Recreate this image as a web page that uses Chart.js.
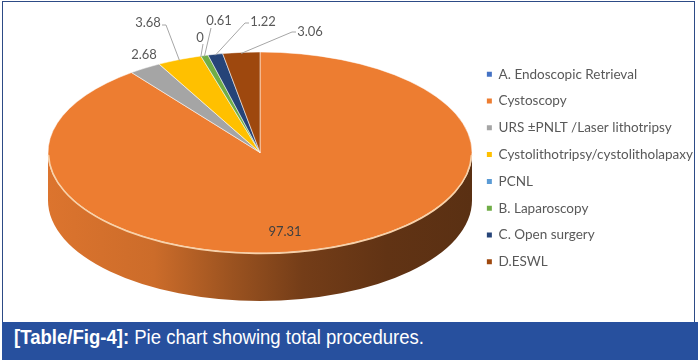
<!DOCTYPE html>
<html><head><meta charset="utf-8">
<script src="https://cdn.jsdelivr.net/npm/chart.js@4.4.0/dist/chart.umd.min.js"></script>
<style>
html,body{margin:0;padding:0;background:#fff;}
#wrap{position:relative;width:700px;height:360px;overflow:hidden;background:#fff;}
#cw{position:absolute;left:0;top:0;width:703px;height:322px;}
#frame{position:absolute;left:2px;top:1px;width:693px;height:321px;border:1.5px solid #2d4b86;border-bottom:none;box-sizing:border-box;}
#cap{position:absolute;left:2px;top:322px;width:696px;height:38px;background:#27509e;color:#fff;}
#capt{position:absolute;left:12px;top:5px;line-height:20px;font-family:"Liberation Sans Narrow","Liberation Sans",Arial,sans-serif;font-size:20px;white-space:nowrap;transform-origin:0 0;display:inline-block;}
</style></head><body>
<div id="wrap">
<div id="cw"><canvas id="c"></canvas></div>
<div id="frame"></div>
<div id="cap"><span id="capt"><b>[Table/Fig-4]:</b> Pie chart showing total procedures.</span></div>
</div>
<script>
// ---- data ----
const categories = ['A. Endoscopic Retrieval','Cystoscopy','URS \u00B1PNLT /Laser lithotripsy','Cystolithotripsy/cystolitholapaxy','PCNL','B. Laparoscopy','C. Open surgery','D.ESWL'];
const procedureValues = [null, 97.31, 2.68, 3.68, 0, 0.61, 1.22, 3.06];
const valueLabels = ['', '97.31', '2.68', '3.68', '0', '0.61', '1.22', '3.06'];
const sliceColors = ['#4472C4','#ED7D31','#A5A5A5','#FFC000','#5B9BD5','#70AD47','#264478','#9E480E'];

// ---- layout (styling only) ----
const PIE = {cx:260, cy:152.5, rx:212, ry:100.5, depth:48};
const LABEL_LAYOUT = {
  1: {x:285, y:232, inside:true},
  2: {x:144, y:55, pts:[]},
  3: {x:148, y:23, pts:[[162,25],[166,25]]},
  4: {x:200, y:38, pts:[[203,44]]},
  5: {x:219, y:21, pts:[[211,28]]},
  6: {x:263, y:22, pts:[[249,23],[245,23]]},
  7: {x:310, y:32, pts:[[296,32],[292,32]]}
};

function shade(hex, f){
  const n = parseInt(hex.slice(1),16);
  const r = Math.round(((n>>16)&255)*f), g = Math.round(((n>>8)&255)*f), b = Math.round((n&255)*f);
  return 'rgb('+r+','+g+','+b+')';
}

function frontRanges(a1, a2){
  const out = [];
  for (let k=-2;k<=2;k++){
    const lo = k*2*Math.PI, hi = lo+Math.PI;
    const s = Math.max(a1, lo), e = Math.min(a2, hi);
    if (e > s) out.push([s,e]);
  }
  return out;
}

const pie3d = {
  id:'pie3d',
  beforeDatasetsDraw(chart){
    const ctx = chart.ctx;
    const meta = chart.getDatasetMeta(0);
    const {cx, cy, rx, ry, depth} = PIE;
    meta.data.forEach((el, i) => {
      const p = el.getProps(['startAngle','endAngle'], true);
      frontRanges(p.startAngle, p.endAngle).forEach(([s,e]) => {
        const c = sliceColors[i];
        const g = ctx.createLinearGradient(cx-rx, 0, cx+rx, 0);
        g.addColorStop(0, shade(c,0.93));
        g.addColorStop(0.25, shade(c,0.86));
        g.addColorStop(0.43, shade(c,0.66));
        g.addColorStop(0.6, shade(c,0.49));
        g.addColorStop(0.8, shade(c,0.41));
        g.addColorStop(1, shade(c,0.38));
        ctx.save();
        ctx.beginPath();
        ctx.ellipse(cx, cy, rx, ry, 0, s, e, false);
        ctx.ellipse(cx, cy+depth, rx, ry, 0, e, s, true);
        ctx.closePath();
        ctx.fillStyle = g;
        ctx.fill();
        ctx.restore();
      });
    });
    const el0 = meta.data[1];
    const q = el0.getProps(['x','y','outerRadius'], true);
    ctx.save();
    ctx.translate(cx, cy);
    ctx.scale(rx/q.outerRadius, ry/q.outerRadius);
    ctx.translate(-q.x, -q.y);
  },
  afterDatasetsDraw(chart){
    const ctx = chart.ctx;
    ctx.restore();
    const {cx, cy, rx, ry} = PIE;
    ctx.save();
    ctx.beginPath();
    ctx.ellipse(cx, cy+0.5, rx-0.5, ry, 0, 0.02, Math.PI-0.02);
    ctx.strokeStyle = '#f8d2aa';
    ctx.lineWidth = 1.6;
    ctx.stroke();
    ctx.restore();
    const meta = chart.getDatasetMeta(0);
    ctx.save();
    ctx.font = '13px Lato, "Open Sans", sans-serif';
    ctx.textAlign = 'center';
    ctx.textBaseline = 'middle';
    meta.data.forEach((el, i) => {
      const L = LABEL_LAYOUT[i];
      if (!L || procedureValues[i] === null) return;
      const p = el.getProps(['startAngle','endAngle'], true);
      const m = (p.startAngle + p.endAngle)/2;
      const ax = cx + rx*Math.cos(m), ay = cy + ry*Math.sin(m);
      if (L.pts && L.pts.length){
        ctx.beginPath();
        ctx.moveTo(L.pts[0][0], L.pts[0][1]);
        for (let k=1;k<L.pts.length;k++) ctx.lineTo(L.pts[k][0], L.pts[k][1]);
        ctx.lineTo(ax, ay+1);
        ctx.strokeStyle = '#a6a6a6';
        ctx.lineWidth = 1;
        ctx.stroke();
      }
      ctx.fillStyle = L.inside ? '#404040' : '#595959';
      ctx.fillText(valueLabels[i], L.x, L.y);
    });
    ctx.restore();
  }
};

const chart = new Chart(document.getElementById('c'), {
  type:'pie',
  data:{
    labels: categories,
    datasets:[{
      data: procedureValues,
      backgroundColor: sliceColors,
      borderColor: 'rgba(255,255,255,0.85)',
      borderWidth: 0.6,
      clip: false
    }]
  },
  options:{
    responsive:true,
    maintainAspectRatio:false,
    animation:false,
    events:[],
    layout:{padding:{top:16,bottom:2,left:0,right:0}},
    plugins:{
      tooltip:{enabled:false},
      legend:{
        position:'right',
        align:'center',
        labels:{
          boxWidth:5, boxHeight:5, padding:13.3,
          color:'#595959',
          font:{family:'Lato, "Open Sans", sans-serif', size:13.5},
          generateLabels(ch){
            const items = Chart.overrides.pie.plugins.legend.labels.generateLabels(ch);
            return items.map(it => Object.assign(it, {strokeStyle: it.fillStyle, lineWidth: 0, hidden:false}));
          }
        }
      }
    }
  },
  plugins:[pie3d]
});

(function(){
  const el = document.getElementById('capt');
  const w = el.getBoundingClientRect().width;
  if (w > 0) el.style.transform = 'scaleX(' + (410/w) + ')';
})();
</script>
</body></html>
